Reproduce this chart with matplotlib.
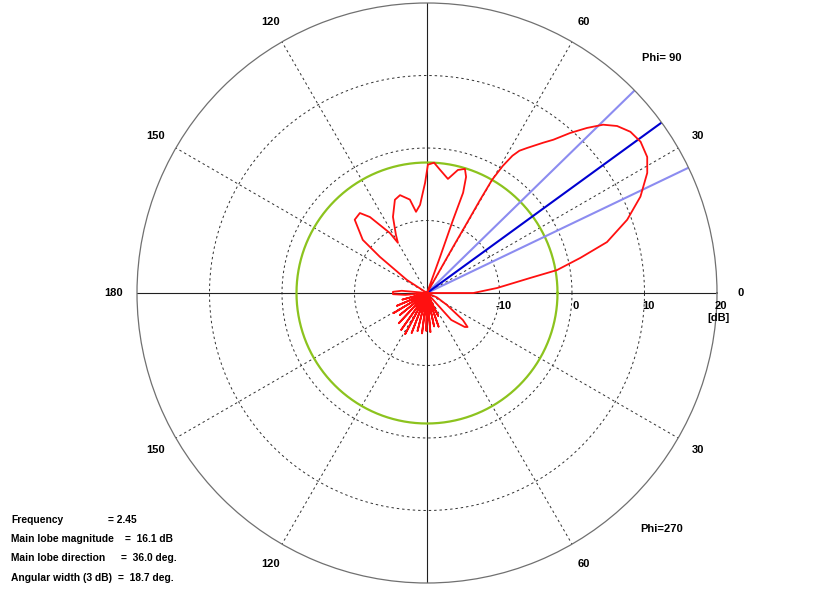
import matplotlib
matplotlib.use("Agg")
import matplotlib.pyplot as plt
import numpy as np

# radiation pattern, elevation cut (angle in deg, gain in dB)
pat_ang = [0, 0, 4.1, 8.3, 10.0, 12.9, 15.8, 20.1, 24.3, 28.6, 31.7, 35.3, 38.4, 41.3,
           43.7, 45.9, 48.2, 50.5, 52.3, 55.4, 57.0, 58.1, 59.2, 60.1, 60.3, 60.3, 60.5, 60.5, 61,
           69, 70.1, 70.4, 70.2, 71.4, 73.0, 75.9, 79.6, 84.0, 86.9, 89.6, 91.0, 94.5, 97.7,
           100.4, 105.4, 109, 114.1, 118.1, 120.1, 121.7, 126.9, 130, 134.6, 140.4, 142.5, 147, 150,
           172, 175, 178, 182, 185, 188,
           191, 195, 199, 203, 207, 211, 215, 219, 223, 227, 231, 235, 238.5, 242, 245.5, 249,
           252.5, 256, 259.5, 263, 266, 269, 272, 275, 278.5, 282, 285.5, 289, 292.5, 296, 300,
           306, 312, 318, 320, 323, 329, 336, 345, 360]
pat_db = [-20, -13.6, -10.3, -5.6, -1.8, 1.7, 5.8, 9.4, 12.3, 14.6, 15.7, 16.1, 15.8, 14.9,
          13.6, 11.7, 9.6, 7.4, 6.2, 4.3, 3.4, 2.3, 0.4, -2.0, -5.2, -8.9, -12.7, -16.4, -20,
          -20, -14.7, -9.3, -5.3, -3.1, -2.1, -2.5, -4.0, -2.9, -2.0, -2.3, -4.8, -7.8, -8.7,
          -6.9, -6.0, -6.4, -8.5, -10.9, -12.0, -10.3, -6.9, -5.6, -5.8, -8.5, -11.8, -16.7, -20,
          -20, -16.5, -15.3, -15.3, -17, -20,
          -20, -16.5, -20, -15.5, -20, -14.6, -20, -15.2, -20, -14.3, -20, -13.8, -20, -13.6, -20, -14.1,
          -20, -14.6, -20, -14.4, -20, -14.8, -20, -14.6, -20, -15.3, -20, -15.1, -20, -16.5, -20,
          -20, -15, -13, -12.7, -13.8, -16.8, -18.5, -20, -20]

ref_db = -2.0            # green reference circle
main_dir = 36.0          # main lobe direction
beam_edges = [25.6, 44.3]  # 3 dB points
rings = [-10, 0, 10]
spokes = [30, 60, 120, 150, 210, 240, 300, 330]
ang_labels = [(0, '0'), (30, '30'), (60, '60'), (120, '120'), (150, '150'), (180, '180'),
              (210, '150'), (240, '120'), (300, '60'), (330, '30')]
r_labels = [-10, 0, 10, 20]
info_left = ['Frequency', 'Main lobe magnitude', 'Main lobe direction', 'Angular width (3 dB)']
info_right = ['= 2.45', '=  16.1 dB', '=  36.0 deg.', '=  18.7 deg.']

plt.rcParams['font.family'] = ['Liberation Sans', 'DejaVu Sans']
plt.rcParams['font.weight'] = 'bold'
plt.rcParams['font.size'] = 8

W, H = 832, 591
fig = plt.figure(figsize=(W / 100, H / 100), dpi=100)
cx, cy, R = 427, 293, 290
ax = fig.add_axes([(cx - R) / W, (H - cy - R) / H, 2 * R / W, 2 * R / H], projection='polar')
ax.set_ylim(-20, 20)
ax.set_xticks([])
ax.set_yticks([])
ax.grid(False)
ax.spines['polar'].set_edgecolor('#707070')
ax.spines['polar'].set_linewidth(0.9)

full = np.linspace(0, 2 * np.pi, 721)
dash = dict(color='#303030', lw=0.7, linestyle=(0, (2.5, 3)))
for r in rings:
    ax.plot(full, np.full_like(full, r), **dash)
for a in spokes:
    ax.plot([np.radians(a)] * 2, [-20, 20], **dash)
for a in [0, 90, 180, 270]:
    ax.plot([np.radians(a)] * 2, [-20, 20], color='#202020', lw=0.8)

ax.plot(full, np.full_like(full, ref_db), color='#8cc31e', lw=1.6)
for a in beam_edges:
    ax.plot([np.radians(a)] * 2, [-20, 20], color='#8c8cf0', lw=1.5)
ax.plot([np.radians(main_dir)] * 2, [-20, 20], color='#0000d0', lw=1.5)
ax.plot(np.radians(pat_ang), pat_db, color='#ff1010', lw=1.3)

for a, s in ang_labels:
    ax.text(np.radians(a), 23.2, s, ha='center', va='center', clip_on=False)
for v in r_labels:
    ax.annotate(str(v), xy=(0, v), xytext=(4, -13), textcoords='offset pixels',
                ha='center', va='center')
ax.annotate('[dB]', xy=(0, 20), xytext=(2, -25), textcoords='offset pixels',
            ha='center', va='center')

def fpos(x, y):
    return x / W, 1 - y / H

fig.text(*fpos(662, 58), 'Phi= 90', ha='center', va='center')
fig.text(*fpos(662, 529), 'Phi=270', ha='center', va='center')

ys = [520, 539, 558, 578]
xs = [108, 125, 121, 118]
for l, r_, y, x in zip(info_left, info_right, ys, xs):
    fig.text(*fpos(11, y), l, ha='left', va='center', fontsize=7.4)
    fig.text(*fpos(x, y), r_, ha='left', va='center', fontsize=7.4)

fig.savefig('out.png', dpi=100, facecolor='white')
